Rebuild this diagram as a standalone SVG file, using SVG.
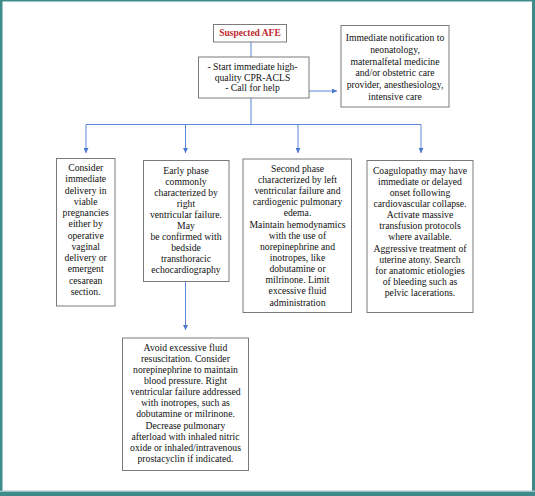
<svg xmlns="http://www.w3.org/2000/svg" width="535" height="496" viewBox="0 0 535 496">
<defs>
<style>
.box{fill:#fff;stroke:#7a7a7a;stroke-width:1}
.t{font-family:'Liberation Serif',serif;font-size:9.7px;fill:#111;text-anchor:middle}
.red{font-weight:bold;fill:#c0282d;font-size:9.5px}
.c{fill:none;stroke:#5b86d6;stroke-width:1}
</style>
<marker id="ah" viewBox="0 0 6 6" refX="6" refY="3" markerWidth="5" markerHeight="5" orient="auto" markerUnits="userSpaceOnUse">
<path d="M0,0 L6,3 L0,6 z" fill="#4a78cc"/>
</marker>
</defs>
<rect x="0" y="0" width="535" height="496" fill="#fff"/>
<g id="frame" fill="#3f8a8a">
<rect x="0" y="0" width="535" height="1.5"/>
<rect x="0" y="0" width="2.5" height="496"/>
<rect x="532" y="0" width="3" height="496"/>
<rect x="0" y="492" width="535" height="4"/>
<rect x="0" y="490.5" width="535" height="1.5" fill="#9cc4c4"/>
</g>
<g id="connectors" class="c">
<line x1="251" y1="42" x2="251" y2="57"/>
<line x1="309" y1="91" x2="337" y2="91" marker-end="url(#ah)"/>
<line x1="251" y1="98" x2="251" y2="124.5"/>
<line x1="86" y1="124.5" x2="421" y2="124.5"/>
<line x1="86" y1="124.5" x2="86" y2="153" marker-end="url(#ah)"/>
<line x1="185.5" y1="124.5" x2="185.5" y2="153" marker-end="url(#ah)"/>
<line x1="298" y1="124.5" x2="298" y2="153" marker-end="url(#ah)"/>
<line x1="421" y1="124.5" x2="421" y2="153" marker-end="url(#ah)"/>
<line x1="185.5" y1="282" x2="185.5" y2="330" marker-end="url(#ah)"/>
</g>
<g font-family="Liberation Serif, serif">
<g id="afe">
<rect class="box" x="213.5" y="24.5" width="73" height="17.5"/>
<text class="t red" x="250" y="36">Suspected AFE</text>
</g>
<g id="cpr">
<rect class="box" x="198.5" y="57" width="110.5" height="41"/>
<text class="t" x="252.5" y="70">- Start immediate high-</text>
<text class="t" x="252.5" y="80.8">quality CPR-ACLS</text>
<text class="t" x="252.5" y="91.4">- Call for help</text>
</g>
<g id="notify">
<rect class="box" x="341" y="25.5" width="108" height="81.5"/>
<text class="t" x="395" y="41">Immediate notification to</text>
<text class="t" x="395" y="52.8">neonatology,</text>
<text class="t" x="395" y="64.6">maternalfetal medicine</text>
<text class="t" x="395" y="76.4">and/or obstetric care</text>
<text class="t" x="395" y="88.2">provider, anesthesiology,</text>
<text class="t" x="395" y="100">intensive care</text>
</g>
<g id="delivery">
<rect class="box" x="56.5" y="158.5" width="58.5" height="147.5"/>
<text class="t" x="85.7" y="171">Consider</text>
<text class="t" x="85.7" y="182.3">immediate</text>
<text class="t" x="85.7" y="193.5">delivery in</text>
<text class="t" x="85.7" y="204.8">viable</text>
<text class="t" x="85.7" y="216.1">pregnancies</text>
<text class="t" x="85.7" y="227.4">either by</text>
<text class="t" x="85.7" y="238.6">operative</text>
<text class="t" x="85.7" y="249.9">vaginal</text>
<text class="t" x="85.7" y="261.2">delivery or</text>
<text class="t" x="85.7" y="272.4">emergent</text>
<text class="t" x="85.7" y="283.7">cesarean</text>
<text class="t" x="85.7" y="295">section.</text>
</g>
<g id="early">
<rect class="box" x="143.5" y="160.5" width="85.5" height="121"/>
<text class="t" x="186" y="173.5">Early phase</text>
<text class="t" x="186" y="184.6">commonly</text>
<text class="t" x="186" y="195.7">characterized by</text>
<text class="t" x="186" y="206.8">right</text>
<text class="t" x="186" y="217.9">ventricular failure.</text>
<text class="t" x="186" y="229">May</text>
<text class="t" x="186" y="240.1">be confirmed with</text>
<text class="t" x="186" y="251.2">bedside</text>
<text class="t" x="186" y="262.3">transthoracic</text>
<text class="t" x="186" y="273.4">echocardiography</text>
</g>
<g id="second">
<rect class="box" x="243" y="159" width="108.5" height="153.5"/>
<text class="t" x="297.5" y="171.8">Second phase</text>
<text class="t" x="297.5" y="182.9">characterized by left</text>
<text class="t" x="297.5" y="194.1">ventricular failure and</text>
<text class="t" x="297.5" y="205.2">cardiogenic pulmonary</text>
<text class="t" x="297.5" y="216.4">edema.</text>
<text class="t" x="297.5" y="227.5">Maintain hemodynamics</text>
<text class="t" x="297.5" y="238.6">with the use of</text>
<text class="t" x="297.5" y="249.8">norepinephrine and</text>
<text class="t" x="297.5" y="260.9">inotropes, like</text>
<text class="t" x="297.5" y="272.1">dobutamine or</text>
<text class="t" x="297.5" y="283.2">milrinone. Limit</text>
<text class="t" x="297.5" y="294.4">excessive fluid</text>
<text class="t" x="297.5" y="305.5">administration</text>
</g>
<g id="coag">
<rect class="box" x="367" y="160.5" width="106" height="152"/>
<text class="t" x="420" y="173.5">Coagulopathy may have</text>
<text class="t" x="420" y="184.6">immediate or delayed</text>
<text class="t" x="420" y="195.8">onset following</text>
<text class="t" x="420" y="206.9">cardiovascular collapse.</text>
<text class="t" x="420" y="218.1">Activate massive</text>
<text class="t" x="420" y="229.2">transfusion protocols</text>
<text class="t" x="420" y="240.4">where available.</text>
<text class="t" x="420" y="251.5">Aggressive treatment of</text>
<text class="t" x="420" y="262.7">uterine atony. Search</text>
<text class="t" x="420" y="273.8">for anatomic etiologies</text>
<text class="t" x="420" y="285">of bleeding such as</text>
<text class="t" x="420" y="296.1">pelvic lacerations.</text>
</g>
<g id="avoid">
<rect class="box" x="122.5" y="338" width="126" height="132.5"/>
<text class="t" x="185.5" y="351">Avoid excessive fluid</text>
<text class="t" x="185.5" y="362.1">resuscitation. Consider</text>
<text class="t" x="185.5" y="373.1">norepinephrine to maintain</text>
<text class="t" x="185.5" y="384.2">blood pressure. Right</text>
<text class="t" x="185.5" y="395.3">ventricular failure addressed</text>
<text class="t" x="185.5" y="406.4">with inotropes, such as</text>
<text class="t" x="185.5" y="417.4">dobutamine or milrinone.</text>
<text class="t" x="185.5" y="428.5">Decrease pulmonary</text>
<text class="t" x="185.5" y="439.6">afterload with inhaled nitric</text>
<text class="t" x="185.5" y="450.6">oxide or inhaled/intravenous</text>
<text class="t" x="185.5" y="461.7">prostacyclin if indicated.</text>
</g>
</g>
</svg>
